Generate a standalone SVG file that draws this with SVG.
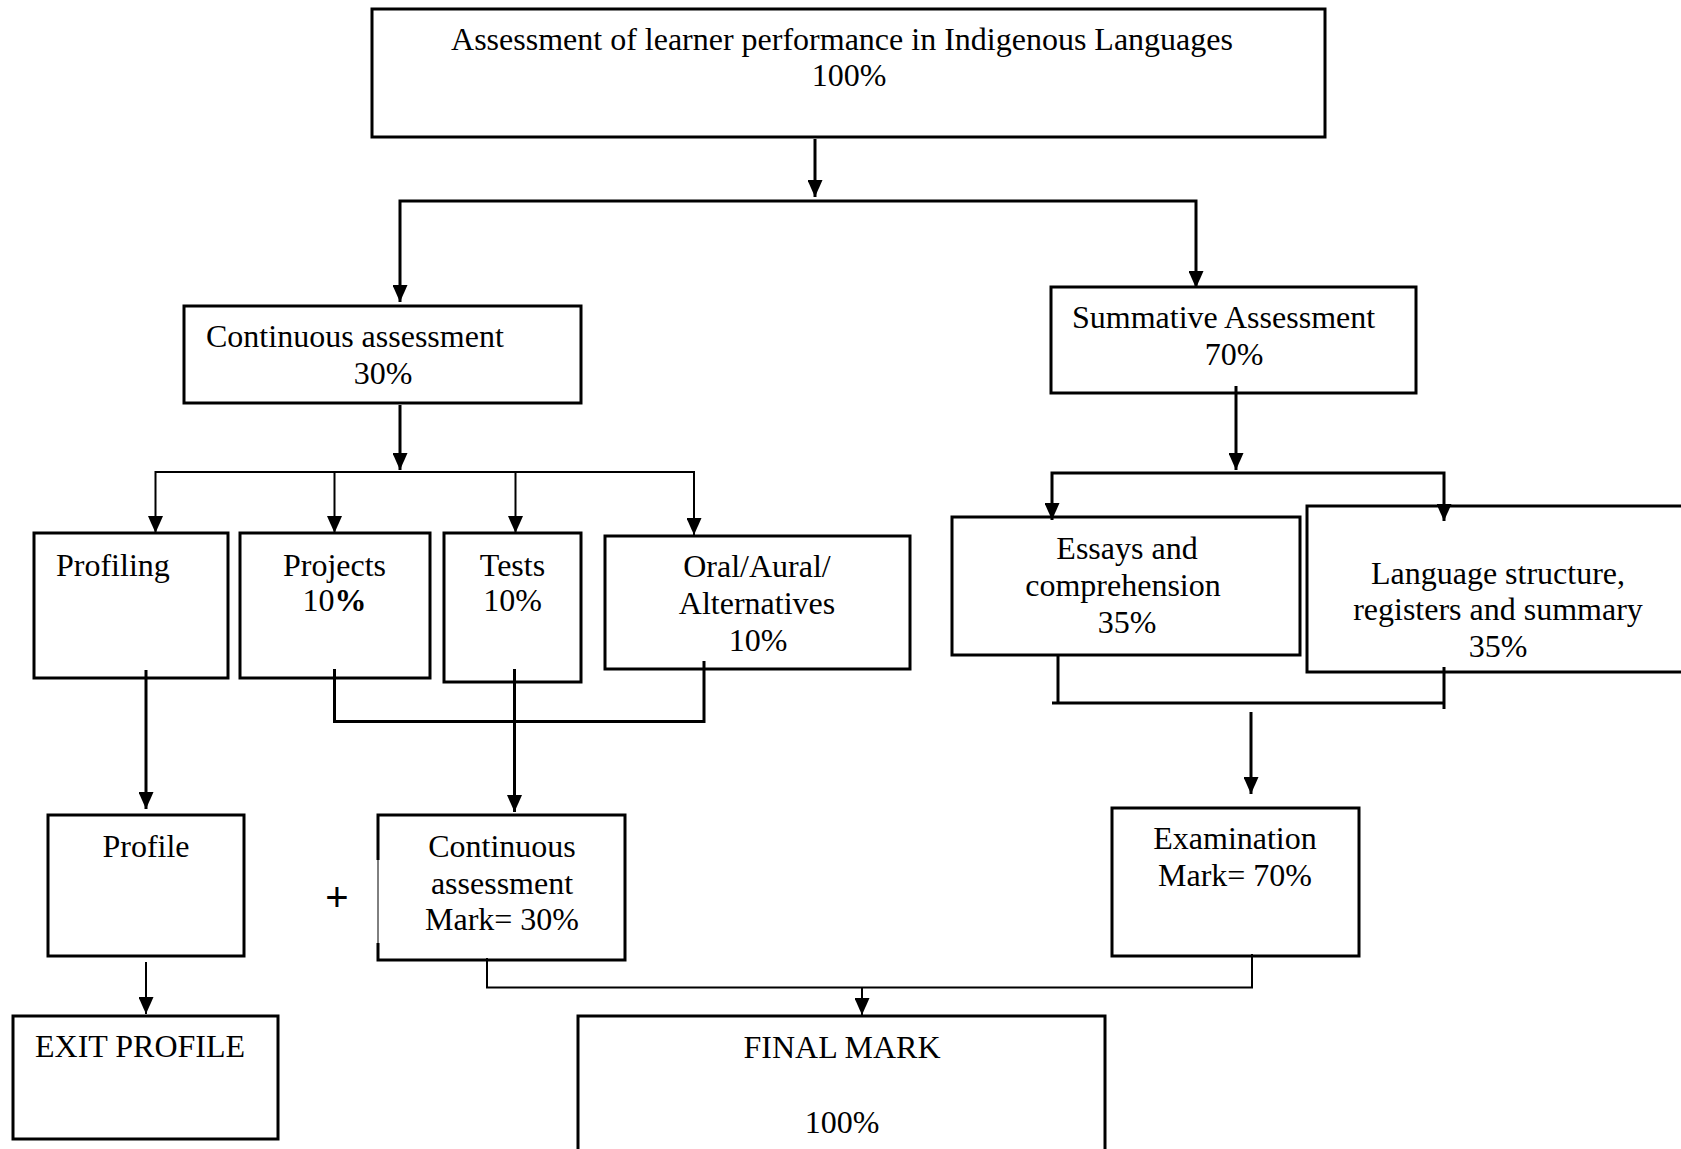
<svg xmlns="http://www.w3.org/2000/svg" width="1681" height="1149" viewBox="0 0 1681 1149">
<style>
.box{fill:#fff;stroke:#000;stroke-width:3}
.t{font-family:"Liberation Serif","Times New Roman",serif;font-size:32px;fill:#000}
.m{text-anchor:middle}
.thick{fill:none;stroke:#000;stroke-width:3}
.thin{fill:none;stroke:#000;stroke-width:2}
</style>
<defs>
<marker id="ah" markerUnits="userSpaceOnUse" markerWidth="17" markerHeight="15" viewBox="0 0 17 15" refX="17" refY="7.5" orient="auto">
<path d="M0,0 L17,7.5 L0,15 z" fill="#000"/>
</marker>
</defs>
<rect width="1681" height="1149" fill="#fff"/>

<g id="n-top">
<rect class="box" x="372" y="9" width="953" height="128"/>
<text class="t m" x="842" y="50">Assessment of learner performance in Indigenous Languages</text>
<text class="t m" x="849" y="86">100%</text>
</g>

<g id="n-continuous">
<rect class="box" x="184" y="306" width="397" height="97"/>
<text class="t" x="206" y="347">Continuous assessment</text>
<text class="t m" x="383" y="384">30%</text>
</g>

<g id="n-summative">
<rect class="box" x="1051" y="287" width="365" height="106"/>
<text class="t" x="1072" y="328">Summative Assessment</text>
<text class="t m" x="1234" y="365">70%</text>
</g>

<g id="n-profiling">
<rect class="box" x="34" y="533" width="194" height="145"/>
<text class="t" x="56" y="576">Profiling</text>
</g>

<g id="n-projects">
<rect class="box" x="240" y="533" width="190" height="145"/>
<text class="t m" x="334.5" y="576">Projects</text>
<text class="t m" x="334.5" y="611">10<tspan font-weight="bold">%</tspan></text>
</g>

<g id="n-tests">
<rect class="box" x="444" y="533" width="137" height="149"/>
<text class="t m" x="512.5" y="576">Tests</text>
<text class="t m" x="512.5" y="611">10%</text>
</g>

<g id="n-oral">
<rect class="box" x="605" y="536" width="305" height="133"/>
<text class="t m" x="757" y="577">Oral/Aural/</text>
<text class="t m" x="757" y="614">Alternatives</text>
<text class="t m" x="758" y="651">10%</text>
</g>

<g id="n-essays">
<rect class="box" x="952" y="517" width="348" height="138"/>
<text class="t m" x="1127" y="559">Essays and</text>
<text class="t m" x="1123" y="596">comprehension</text>
<text class="t m" x="1127" y="633">35%</text>
</g>

<g id="n-language">
<rect class="box" x="1307" y="506" width="400" height="166"/>
<text class="t m" x="1498" y="584">Language structure,</text>
<text class="t m" x="1498" y="620">registers and summary</text>
<text class="t m" x="1498" y="657">35%</text>
</g>

<g id="n-profile">
<rect class="box" x="48" y="815" width="196" height="141"/>
<text class="t m" x="146" y="857">Profile</text>
</g>

<g id="n-plus">
<text x="337" y="911" font-family="Liberation Sans, Arial, sans-serif" font-size="40" text-anchor="middle" fill="#000">+</text>
</g>

<g id="n-camark">
<rect x="378" y="815" width="247" height="145" fill="#fff" stroke="none"/>
<polyline class="thick" points="378,860 378,815 625,815 625,960 378,960 378,943"/>
<line x1="378" y1="860" x2="378" y2="943" stroke="#000" stroke-width="1"/>
<text class="t m" x="502" y="857">Continuous</text>
<text class="t m" x="502" y="894">assessment</text>
<text class="t m" x="502" y="930">Mark= 30%</text>
</g>

<g id="n-exam">
<rect class="box" x="1112" y="808" width="247" height="148"/>
<text class="t m" x="1235" y="849">Examination</text>
<text class="t m" x="1235" y="886">Mark= 70%</text>
</g>

<g id="n-exit">
<rect class="box" x="13" y="1016" width="265" height="123"/>
<text class="t" x="35" y="1057">EXIT PROFILE</text>
</g>

<g id="n-final">
<rect class="box" x="578" y="1016" width="527" height="150"/>
<text class="t m" x="842" y="1058">FINAL MARK</text>
<text class="t m" x="842" y="1133">100%</text>
</g>

<g id="connectors">
<line class="thick" x1="815" y1="139" x2="815" y2="197" marker-end="url(#ah)"/>
<path class="thick" d="M400,302 V201 H1196 V288" marker-end="url(#ah)"/>
<path class="thick" d="M400,201 V302" marker-end="url(#ah)" stroke-opacity="0"/>
<line class="thick" x1="400" y1="405" x2="400" y2="470" marker-end="url(#ah)"/>
<path class="thin" d="M155.5,533 V472 H694 V535" marker-end="url(#ah)"/>
<path class="thin" d="M155.5,472 V533" marker-end="url(#ah)" stroke-opacity="0"/>
<line class="thin" x1="334.5" y1="472" x2="334.5" y2="533" marker-end="url(#ah)"/>
<line class="thin" x1="515.5" y1="472" x2="515.5" y2="533" marker-end="url(#ah)"/>
<line class="thick" x1="146" y1="670" x2="146" y2="809" marker-end="url(#ah)"/>
<polyline class="thick" points="334.5,669 334.5,721.5 704,721.5 704,661"/>
<line class="thick" x1="514.5" y1="669" x2="514.5" y2="812" marker-end="url(#ah)"/>
<line class="thin" x1="146" y1="962" x2="146" y2="1014" marker-end="url(#ah)"/>
<polyline class="thin" points="487,958 487,987.5 1252,987.5 1252,954"/>
<line class="thin" x1="862" y1="987.5" x2="862" y2="1015" marker-end="url(#ah)"/>
<line class="thick" x1="1236" y1="386" x2="1236" y2="470" marker-end="url(#ah)"/>
<path class="thick" d="M1052,520 V473 H1444 V521" marker-end="url(#ah)"/>
<path class="thick" d="M1052,473 V520" marker-end="url(#ah)" stroke-opacity="0"/>
<line class="thick" x1="1058" y1="655" x2="1058" y2="703"/>
<line class="thick" x1="1052" y1="703" x2="1444" y2="703"/>
<line class="thick" x1="1444" y1="667" x2="1444" y2="709"/>
<line class="thick" x1="1251" y1="712" x2="1251" y2="794" marker-end="url(#ah)"/>
</g>
</svg>
